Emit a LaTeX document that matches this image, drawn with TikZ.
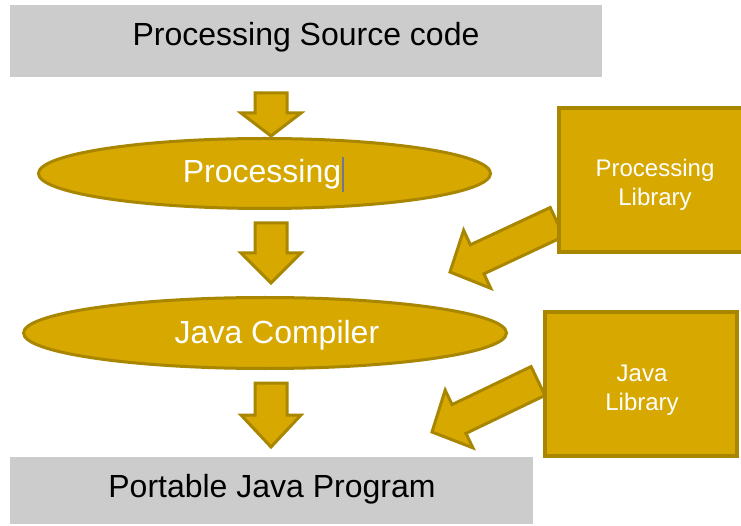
\documentclass[tikz,border=0pt]{standalone}
\usepackage{fontspec}
\setmainfont{Liberation Sans}
\usetikzlibrary{shapes.geometric,calc}
\definecolor{goldfill}{RGB}{214,168,0}
\definecolor{golddraw}{RGB}{168,134,0}
\definecolor{grayfill}{RGB}{204,204,204}
\definecolor{cursorcol}{RGB}{110,120,150}
% block arrow: #1 tail, #2 tip, #3 shaft half width, #4 head half width, #5 head length
\newcommand\blockarr[5]{%
  \path ($(#2)!#5!(#1)$) coordinate (hb);
  \draw[barrow] ($(#1)!#3!90:(#2)$) -- ($(hb)!#3!90:(#2)$) -- ($(hb)!#4!90:(#2)$)
    -- (#2) -- ($(hb)!#4!-90:(#2)$) -- ($(hb)!#3!-90:(#2)$) -- ($(#1)!#3!-90:(#2)$) -- cycle;}
\begin{document}
\begin{tikzpicture}[x=1pt,y=-1pt,
  graybox/.style={rectangle,fill=grayfill,draw=none,inner sep=0pt},
  goldbox/.style={rectangle,fill=goldfill,draw=golddraw,line width=4pt,inner sep=0pt},
  goldell/.style={ellipse,fill=goldfill,draw=golddraw,line width=3pt,inner sep=0pt},
  bigtext/.style={font=\fontsize{32}{38}\selectfont,inner sep=0pt,anchor=base},
  libtext/.style={font=\fontsize{24}{29}\selectfont,text=white,align=center,inner sep=0pt},
  barrow/.style={fill=goldfill,draw=golddraw,line width=3pt,line join=miter},
  cursorline/.style={draw=cursorcol,line width=1.2pt}]
\useasboundingbox (0,0) rectangle (741,526);
\clip (0,0) rectangle (741,526);
\fill[white] (0,0) rectangle (741,526);

% coordinates for block arrows
\coordinate (a1t) at (271,93);  \coordinate (a1h) at (271,136);
\coordinate (a2t) at (271,223); \coordinate (a2h) at (271,283);
\coordinate (a3t) at (271,383); \coordinate (a3h) at (271,447);
\coordinate (d1t) at (557,222); \coordinate (d1h) at (450,272);
\coordinate (d2t) at (538,381); \coordinate (d2h) at (432,432);

\blockarr{a1t}{a1h}{16pt}{30pt}{23pt}
\blockarr{a2t}{a2h}{16pt}{30pt}{30pt}
\blockarr{a3t}{a3h}{16pt}{30pt}{32pt}
\blockarr{d1t}{d1h}{16pt}{32pt}{30pt}
\blockarr{d2t}{d2h}{16pt}{32pt}{30pt}

% gray boxes
\node[graybox,minimum width=592pt,minimum height=72pt] (src) at (306,41) {};
\node[bigtext] (srctext) at (306,46) {Processing Source code};
\node[graybox,minimum width=523pt,minimum height=67pt] (out) at (271.5,490.5) {};
\node[bigtext] (outtext) at (272,497) {Portable Java Program};

% ellipses
\node[goldell,minimum width=452pt,minimum height=70pt] (proc) at (264.5,173.5) {};
\node[bigtext,text=white] (proctext) at (262,183) {Processing};
\draw[cursorline] (343,157) -- (343,192);
\node[goldell,minimum width=483pt,minimum height=71pt] (javac) at (265,333) {};
\node[bigtext,text=white] (javactext) at (277,343) {Java Compiler};

% library boxes
\node[goldbox,minimum width=201pt,minimum height=144pt] (plib) at (659.5,180) {};
\node[libtext] (plibtext) at (655,185) {Processing\\Library};
\node[goldbox,minimum width=192pt,minimum height=144pt] (jlib) at (641,384) {};
\node[libtext] (jlibtext) at (642,390) {Java\\Library};
\end{tikzpicture}
\end{document}
